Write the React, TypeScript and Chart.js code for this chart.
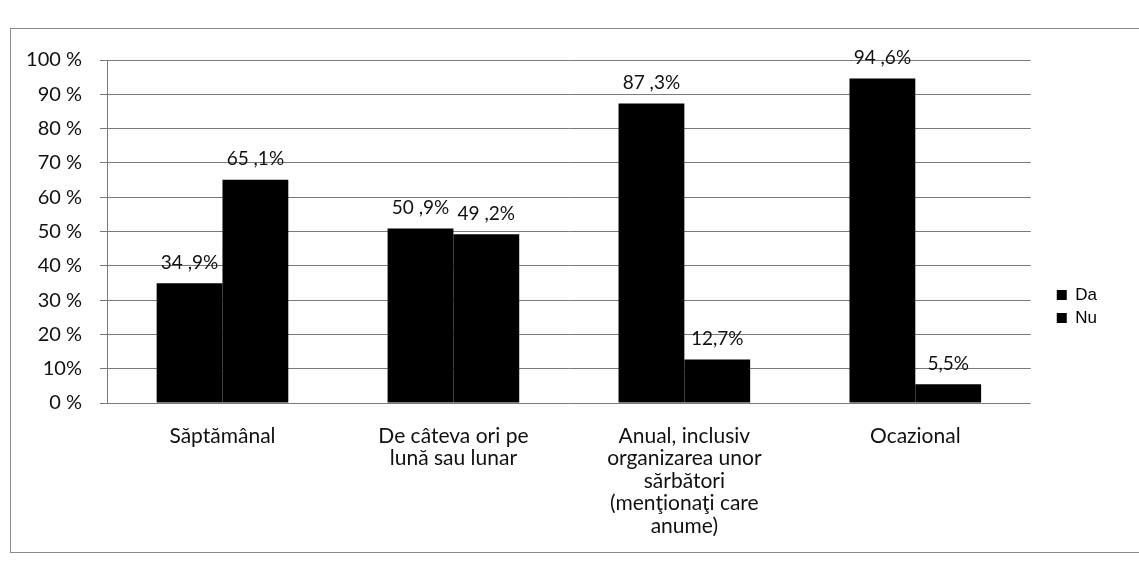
import React, { useEffect, useRef } from "react";
import { Chart, registerables } from "chart.js";
Chart.register(...registerables);

const categories: string[][] = [
  ["Săptămânal"],
  ["De câteva ori pe", "lună sau lunar"],
  ["Anual, inclusiv", "organizarea unor", "sărbători", "(menţionaţi care", "anume)"],
  ["Ocazional"],
];
const seriesNames = ["Da", "Nu"];
const daValues = [34.9, 50.9, 87.3, 94.6];
const nuValues = [65.1, 49.2, 12.7, 5.5];
const daLabels = ["34 ,9%", "50 ,9%", "87 ,3%", "94 ,6%"];
const nuLabels = ["65 ,1%", "49 ,2%", "12,7%", "5,5%"];
const yTickLabels = ["0 %", "10%", "20 %", "30 %", "40 %", "50 %", "60 %", "70 %", "80 %", "90 %", "100 %"];

const W = 1139;
const H = 567;
const TEXT_FONT = "Lato, 'Open Sans', sans-serif";

const frame = {
  id: "frame",
  beforeDraw(chart: any) {
    const ctx = chart.ctx;
    ctx.save();
    ctx.fillStyle = "#fff";
    ctx.fillRect(0, 0, chart.width, chart.height);
    ctx.strokeStyle = "#8a8a8a";
    ctx.lineWidth = 1;
    ctx.strokeRect(10.5, 28.5, 1140, 524);
    ctx.restore();
  },
};

const legendShift = {
  id: "legendShift",
  afterLayout(chart: any) {
    const lg = chart.legend;
    if (!lg) return;
    lg.left += 20;
    lg.right += 20;
    lg.top -= 7;
    lg.bottom -= 7;
  },
};

const valueLabels = {
  id: "valueLabels",
  afterDatasetsDraw(chart: any) {
    const ctx = chart.ctx;
    const all = [daLabels, nuLabels];
    ctx.save();
    ctx.fillStyle = "#111";
    ctx.font = "19px " + TEXT_FONT;
    ctx.textAlign = "center";
    ctx.textBaseline = "bottom";
    chart.data.datasets.forEach((ds: any, di: number) => {
      const meta = chart.getDatasetMeta(di);
      meta.data.forEach((el: any, i: number) => {
        ctx.fillText(all[di][i], el.x, el.y - 11);
      });
    });
    ctx.restore();
  },
};

export default function App() {
  const ref = useRef<HTMLCanvasElement | null>(null);
  useEffect(() => {
    if (!ref.current) return;
    const chart = new Chart(ref.current, {
      type: "bar",
      data: {
        labels: categories,
        datasets: [
          { label: seriesNames[0], data: daValues, backgroundColor: "#000", borderWidth: 0 },
          { label: seriesNames[1], data: nuValues, backgroundColor: "#000", borderWidth: 0 },
        ],
      },
      options: {
        animation: false,
        responsive: false,
        maintainAspectRatio: false,
        layout: { padding: { left: 10, top: 60, right: 52, bottom: 0 } },
        datasets: { bar: { categoryPercentage: 0.57, barPercentage: 1.0 } },
        plugins: {
          tooltip: { enabled: false },
          legend: {
            position: "right",
            labels: {
              color: "#000",
              boxWidth: 10,
              boxHeight: 10,
              padding: 6,
              font: { family: "'Liberation Sans', Arial, sans-serif", size: 17 },
            },
          },
        },
        scales: {
          x: {
            grid: { display: false },
            border: { display: false },
            ticks: {
              color: "#111",
              font: { family: TEXT_FONT, size: 21, lineHeight: 1.07 },
              maxRotation: 0,
              autoSkip: false,
              padding: 14,
            },
            afterFit(axis: any) {
              axis.height = H - 403;
            },
          },
          y: {
            min: 0,
            max: 100,
            ticks: {
              stepSize: 10,
              color: "#111",
              font: { family: TEXT_FONT, size: 20 },
              padding: 18,
              callback: (v: any) => yTickLabels[Math.round(Number(v) / 10)],
            },
            grid: { color: "#7a7a7a", lineWidth: 1, tickLength: 7 },
            border: { color: "#7a7a7a", width: 1 },
            afterFit(axis: any) {
              axis.width = 97;
            },
          },
        },
      },
      plugins: [frame, legendShift, valueLabels],
    });
    return () => chart.destroy();
  }, []);
  return (
    <div style={{ position: "fixed", left: 0, top: 0, width: W, height: H, background: "#fff" }}>
      <canvas ref={ref} width={W} height={H} style={{ display: "block" }} />
    </div>
  );
}
